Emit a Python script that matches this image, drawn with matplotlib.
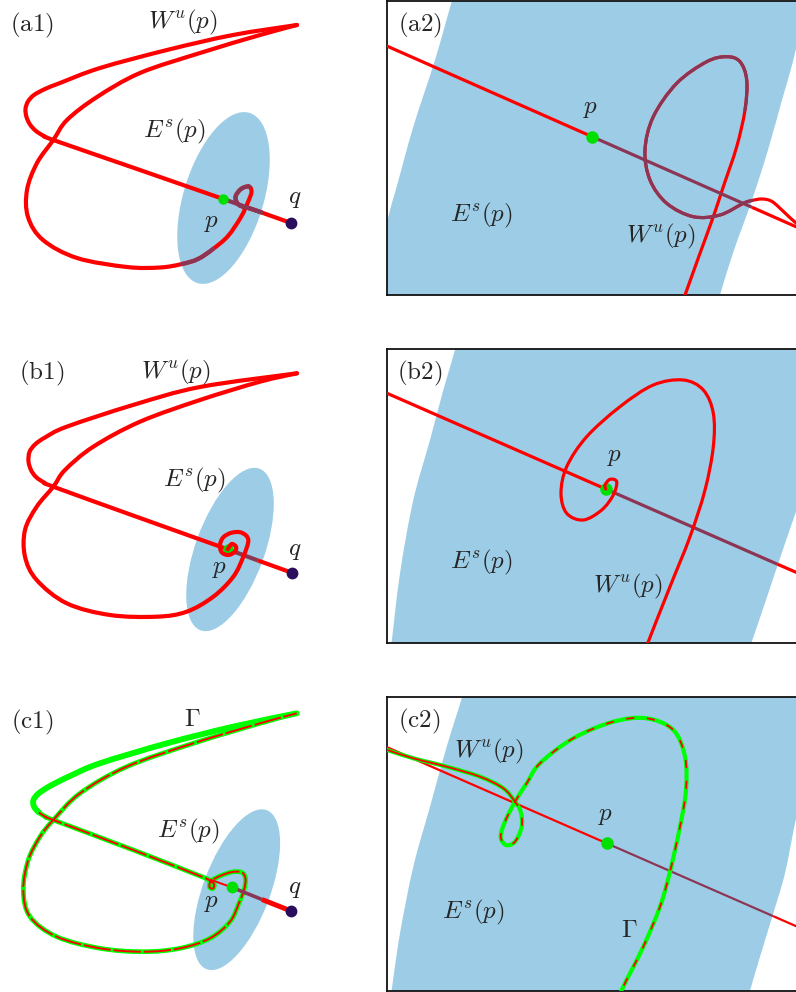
import numpy as np
import matplotlib
matplotlib.use("Agg")
import matplotlib.pyplot as plt
from matplotlib.path import Path
from matplotlib.patches import PathPatch, Ellipse

plt.rcParams["mathtext.fontset"] = "cm"
plt.rcParams["font.family"] = ["DejaVu Serif"]

W, H = 796, 992
RED = "#ff0000"
MAROON = "#8c3656"
GREEN = "#00ff00"
DOT_GREEN = "#00e000"
BLUE = "#9dcde6"
NAVY = "#2b0d5e"
INK = "#262626"

# ---------------- panel (a1) ----------------
a1_p = (223.3, 199.0)
a1_q = (291.0, 223.0)
a1_plane = dict(center=(223.5, 198.0), width=80, height=178, angle=17)
a1_axis = [(223.3, 199.0), (263.0, 213.0), (291.0, 223.0)]
a1_upper = [(223.3, 199.0), (133.3, 167.7), (53.3, 140.0), (44, 136), (36, 131),
            (30, 124.5), (26.5, 117), (25.5, 109), (28, 101.5), (34, 95),
            (45, 89), (60, 83), (100, 68), (167, 50), (233, 35), (297, 25)]
a1_lower = [(297, 25), (260, 35), (200, 53), (140, 73), (97, 97), (67, 120),
            (53.3, 140), (37, 163), (27, 190), (28, 217), (43, 240), (77, 258),
            (127, 267), (160, 267.5), (182, 264), (198, 259), (213, 249),
            (228, 236), (241, 217), (248, 202), (251.5, 192), (249, 186.5),
            (241, 189), (235.5, 197), (239, 205), (250, 208.5), (262, 212.5)]
a1_behind = [(14, 16), (21, 26)]

# ---------------- panel (b1) ----------------
b1_p = (227.7, 549.3)
b1_q = (291.7, 572.7)
b1_plane = dict(center=(230.0, 549.5), width=69, height=172, angle=20)
b1_axis = [(227.7, 549.3), (258.0, 560.5), (291.7, 572.7)]
b1_upper = [(227.7, 549.3), (140, 518), (53.3, 486.7), (44, 482.5), (36, 477),
            (31, 470), (28.5, 461.5), (29.5, 452), (35, 444.5), (45, 437.5),
            (66.7, 426.7), (133, 405), (200, 387), (297, 373.3)]
b1_lower = [(297, 373.3), (260, 381.7), (200, 400), (140, 421.7), (93.3, 446.7),
            (65, 470), (53.3, 486.7), (36.7, 506.7), (25, 530), (25, 556.7),
            (36.7, 580), (66.7, 603.3), (110, 615), (156.7, 616.7), (186.7, 611.7),
            (213.3, 596.7), (233.3, 576.7), (243.3, 556.7), (248.3, 540),
            (241.7, 532.7), (231.7, 532.7), (223.3, 537.3), (220, 545),
            (221.7, 552.3), (228.3, 555), (235, 551.7), (236, 546.7),
            (231.7, 544), (227.7, 549.3)]

# ---------------- panel (c1) ----------------
c1_p = (231.7, 887.3)
c1_q = (291.0, 911.0)
c1_plane = dict(center=(236.7, 889.7), width=67, height=170, angle=20.7)
c1_axis = [(210.0, 879.5), (231.7, 887.3), (262.0, 899.5), (291.0, 911.0)]
c1_gamma = [(296.7, 713.3), (233, 726.7), (167, 743.3), (100, 763.3), (70, 776),
            (50, 786), (38.5, 793.5), (33.5, 800), (34, 806.5), (39, 812.5),
            (46, 817), (53.3, 820), (133.3, 850), (200, 876), (208, 879.5),
            (214, 884), (213, 888.5), (209.5, 887), (211, 881), (220, 876),
            (232, 872), (242, 872.5), (245.5, 879), (244, 890), (239, 903),
            (230, 921.7), (210, 938.3), (180, 948.3), (143.3, 951.7),
            (100, 948.3), (56.7, 936.7), (30, 916.7), (23.3, 890), (28.3, 860),
            (40, 836.7), (53.3, 820), (80, 793.3), (126.7, 766.7),
            (193.3, 743.3), (260, 723.3), (296.7, 713.3)]
c1_green_only = (0, 9)

# ---------------- panel (a2) ----------------
a2_box = (1.0, 294.5)
a2_p = (591.7, 136.5)
a2_axis = [(380.0, 43.0), (591.7, 136.5), (752.0, 207.3), (800.0, 228.5)]
a2_plane_left = [(456, -10), (451.7, 1.7), (435, 60), (413.3, 126.7), (396.7, 186.7),
                 (388.3, 216.7), (383, 245), (375, 305)]
a2_plane_right = [(717, 305), (720, 295), (733, 253), (752, 200), (768, 150),
                  (782, 100), (792, 65), (800, 30), (806, -10)]
a2_curve = [(683, 300), (685, 295), (700, 253.3), (713.3, 216.7), (723.3, 186.7),
            (736.7, 146.7), (745, 110), (746.7, 80), (740, 61.7), (726.7, 56.7),
            (706.7, 61.7), (676.7, 83.3), (653.3, 116.7), (645, 150), (650, 180),
            (666.7, 203.3), (693.3, 216.7), (720, 215), (743.3, 203.3),
            (752, 200.5), (762, 199), (772, 201.5), (784, 212), (796, 223),
            (805, 228)]
a2_behind = (6, 19)

# ---------------- panel (b2) ----------------
b2_box = (349.3, 642.7)
b2_p = (605.7, 489.0)
b2_axis = [(380.0, 390.2), (605.7, 489.0), (777.0, 564.0), (800.0, 574.0)]
b2_plane_left = [(458, 335), (455, 350), (443.3, 390), (430, 440), (413.3, 500),
                 (400, 573.3), (391.7, 641.7), (390, 655)]
b2_plane_right = [(747, 655), (751.7, 642), (766, 600), (776, 570), (791, 526),
                  (800, 500), (812, 460), (830, 335)]
b2_curve = [(644, 655), (648.3, 641.7), (670, 586.7), (690, 536.7), (705, 490),
            (713.3, 446.7), (713.3, 413.3), (703.3, 390), (683.3, 380),
            (653.3, 385), (620, 406.7), (586.7, 436.7), (566.7, 466.7),
            (561, 493.3), (566.7, 513.3), (583.3, 520), (601.7, 510),
            (613.3, 495), (616.7, 481.7), (610, 479.3), (605, 485),
            (605.7, 489.0)]

# ---------------- panel (c2) ----------------
c2_box = (696.7, 990.7)
c2_p = (606.7, 843.3)
c2_axis = [(380.0, 744.1), (606.7, 843.3), (773.3, 916.2), (800.0, 927.9)]
c2_plane_left = [(466, 680), (461.7, 698.3), (446.7, 746.7), (430, 806.7),
                 (413.3, 866.7), (400, 933.3), (391.7, 990), (390, 1005)]
c2_plane_right = [(746, 1005), (750, 990.7), (760, 956.7), (773.3, 913.3),
                  (785, 873.3), (795, 823.3), (805, 780), (820, 680)]
c2_gamma = [(617, 1005), (621.7, 990), (643.3, 946.7), (660, 906.7), (670, 871.7),
            (680, 826.7), (686, 790), (685, 756.7), (673.3, 730), (646.7, 718.3),
            (613.3, 721.7), (573.3, 738.3), (540, 763.3), (526.7, 783.3),
            (515, 801.7), (505, 821.7), (500.7, 836.7), (506, 845),
            (515, 841.7), (521.7, 826.7), (520.7, 811.7), (515, 801.7),
            (503.3, 788.3), (480, 776.7), (446.7, 766.7), (413.3, 758.3),
            (387.3, 750), (378, 747.5)]
c2_solid_red = (21, 27)

# ---------------- labels ----------------
labels_left = [
    (r"$\mathrm{(a1)}$", 32, 25), (r"$W^u(p)$", 183, 22), (r"$E^s(p)$", 174, 131),
    (r"$p$", 212, 222), (r"$q$", 295, 199),
    (r"$\mathrm{(b1)}$", 42, 373), (r"$W^u(p)$", 176, 372), (r"$E^s(p)$", 194, 480),
    (r"$p$", 220, 568), (r"$q$", 295, 550),
    (r"$\mathrm{(c1)}$", 32, 722), (r"$\Gamma$", 192, 720), (r"$E^s(p)$", 188, 831),
    (r"$p$", 212, 903), (r"$q$", 295, 888),
]
labels_a2 = [(r"$\mathrm{(a2)}$", 419.5, 25), (r"$p$", 591, 108),
             (r"$E^s(p)$", 481.7, 215), (r"$W^u(p)$", 660.8, 236)]
labels_b2 = [(r"$\mathrm{(b2)}$", 419.5, 373), (r"$p$", 615, 457),
             (r"$E^s(p)$", 481.7, 562.5), (r"$W^u(p)$", 627.5, 586)]
labels_c2 = [(r"$\mathrm{(c2)}$", 419, 721.7), (r"$W^u(p)$", 489, 751.7),
             (r"$p$", 606, 815), (r"$E^s(p)$", 473, 912.5), (r"$\Gamma$", 629, 930)]


def bezier_parts(pts, i0=0, i1=None):
    """Cubic Bezier pieces of a Catmull-Rom curve through pts[i0..i1]."""
    pts = np.asarray(pts, float)
    n = len(pts)
    if i1 is None:
        i1 = n - 1
    verts = [pts[i0]]
    codes = [Path.MOVETO]
    for i in range(i0, i1):
        p0 = pts[max(i - 1, 0)]
        p1 = pts[i]
        p2 = pts[i + 1]
        p3 = pts[min(i + 2, n - 1)]
        verts += [p1 + (p2 - p0) / 6.0, p2 - (p3 - p1) / 6.0, p2]
        codes += [Path.CURVE4] * 3
    return verts, codes


def draw_curve(ax, pts, color, lw, i0=0, i1=None, z=3, ls="solid", cap="round"):
    verts, codes = bezier_parts(pts, i0, i1)
    ax.add_patch(PathPatch(Path(verts, codes), fill=False, edgecolor=color, lw=lw,
                           zorder=z, capstyle=cap, joinstyle="round", linestyle=ls))


def draw_polyline(ax, pts, colors, lws, z=3):
    for k in range(len(pts) - 1):
        (x0, y0), (x1, y1) = pts[k], pts[k + 1]
        ax.plot([x0, x1], [y0, y1], color=colors[k], lw=lws[k], zorder=z,
                solid_capstyle="butt")


def draw_plane(ax, left, right):
    v1, c1 = bezier_parts(left)
    v2, c2 = bezier_parts(right)
    c2 = list(c2)
    c2[0] = Path.LINETO
    verts = v1 + v2 + [v1[0]]
    codes = c1 + c2 + [Path.CLOSEPOLY]
    ax.add_patch(PathPatch(Path(verts, codes), facecolor=BLUE, edgecolor="none", zorder=1))


def dot(ax, xy, color, ms, z=8):
    ax.plot([xy[0]], [xy[1]], "o", color=color, ms=ms, mec="none", zorder=z)


def put_labels(ax, items, size=18):
    for txt, x, y in items:
        ax.text(x, y, txt, ha="center", va="center", fontsize=size, color=INK, zorder=10)


fig = plt.figure(figsize=(W / 100, H / 100), dpi=100)

# Left column: one axes in pixel units
ax0 = fig.add_axes([0, 0, 1, 1])
ax0.set_xlim(0, W)
ax0.set_ylim(H, 0)
ax0.axis("off")

for plane in (a1_plane, b1_plane, c1_plane):
    ax0.add_patch(Ellipse(plane["center"], plane["width"], plane["height"],
                          angle=plane["angle"], facecolor=BLUE, edgecolor="none", zorder=1))

LW1 = 3.0
# (a1)
draw_curve(ax0, a1_upper, RED, LW1)
draw_curve(ax0, a1_lower, RED, LW1)
for i0, i1 in a1_behind:
    draw_curve(ax0, a1_lower, MAROON, LW1, i0, i1, z=4)
draw_polyline(ax0, a1_axis, [MAROON, RED], [LW1, LW1], z=4)
dot(ax0, a1_p, DOT_GREEN, 7.5)
dot(ax0, a1_q, NAVY, 8.5)

# (b1)
draw_curve(ax0, b1_upper, RED, LW1)
draw_polyline(ax0, b1_axis, [MAROON, RED], [LW1, LW1], z=3)
dot(ax0, b1_p, DOT_GREEN, 7.5, z=4)
draw_curve(ax0, b1_lower, RED, LW1, z=5)
dot(ax0, b1_q, NAVY, 8.5)

# (c1)
draw_curve(ax0, c1_gamma, GREEN, 3.4)
draw_curve(ax0, c1_gamma, GREEN, 4.2, *c1_green_only)
draw_curve(ax0, c1_gamma, RED, 1.4, c1_green_only[1], None, z=4, ls=(0, (14, 1.5)), cap="butt")
draw_polyline(ax0, c1_axis, [RED, MAROON, RED], [1.4, 2.6, 3.6], z=4)
dot(ax0, c1_p, DOT_GREEN, 8.5, z=6)
dot(ax0, c1_q, NAVY, 8.5)

put_labels(ax0, labels_left)


def right_panel(box):
    top, bottom = box
    ax = fig.add_axes([387.3 / W, 1 - bottom / H, (W - 387.3) / W, (bottom - top) / H])
    ax.set_xlim(387.3, W)
    ax.set_ylim(bottom, top)
    ax.set_xticks([])
    ax.set_yticks([])
    ax.spines["right"].set_visible(False)
    for s in ("left", "top", "bottom"):
        ax.spines[s].set_linewidth(1.3)
        ax.spines[s].set_color("#111111")
    return ax


LW2 = 2.3
# (a2)
ax = right_panel(a2_box)
draw_plane(ax, a2_plane_left, a2_plane_right)
draw_curve(ax, a2_curve, RED, LW2)
draw_curve(ax, a2_curve, MAROON, LW2, *a2_behind, z=4)
draw_polyline(ax, a2_axis, [RED, MAROON, RED], [LW2] * 3, z=4)
dot(ax, a2_p, DOT_GREEN, 9)
put_labels(ax, labels_a2)

# (b2)
ax = right_panel(b2_box)
draw_plane(ax, b2_plane_left, b2_plane_right)
draw_polyline(ax, b2_axis, [RED, MAROON, RED], [LW2] * 3, z=3)
dot(ax, b2_p, DOT_GREEN, 9, z=4)
draw_curve(ax, b2_curve, RED, LW2, z=5)
put_labels(ax, labels_b2)

# (c2)
ax = right_panel(c2_box)
draw_plane(ax, c2_plane_left, c2_plane_right)
draw_polyline(ax, c2_axis, [RED, MAROON, RED], [1.6, 1.6, 1.6], z=3)
draw_curve(ax, c2_gamma, GREEN, 3.0, z=4)
draw_curve(ax, c2_gamma, RED, 1.3, 0, c2_solid_red[0], z=5, ls=(0, (4.5, 7)), cap="butt")
draw_curve(ax, c2_gamma, RED, 1.3, *c2_solid_red, z=5)
dot(ax, c2_p, DOT_GREEN, 9, z=6)
put_labels(ax, labels_c2)

fig.savefig("out.png", dpi=100)
